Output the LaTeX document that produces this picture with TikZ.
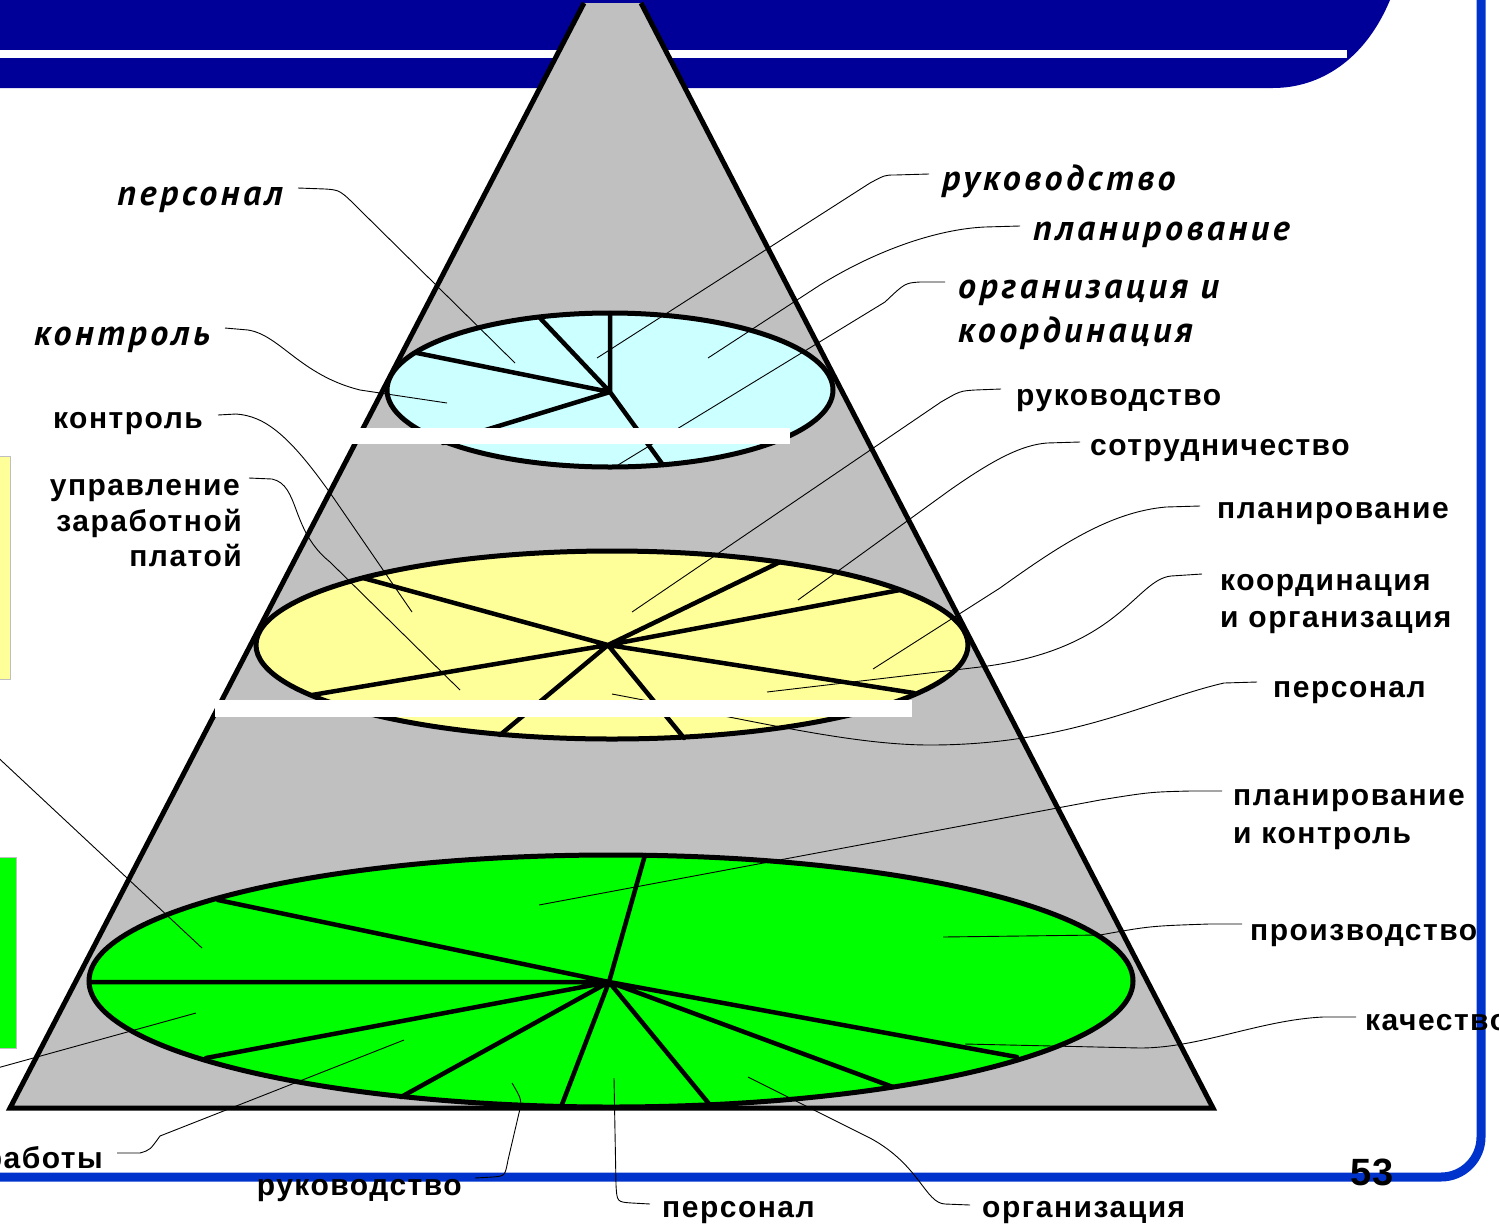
\documentclass[tikz,border=0pt]{standalone}
\usepackage{fontspec}
\setmainfont{Liberation Sans}
\newfontfamily\labfont{Liberation Sans}[LetterSpace=5]
\newfontfamily\itlabfont{PT Sans}[LetterSpace=10]
\usetikzlibrary{calc}
\definecolor{navy}{RGB}{0,0,153}
\definecolor{frameblue}{RGB}{0,51,204}
\definecolor{pyrgray}{RGB}{192,192,192}
\definecolor{topcyan}{RGB}{204,255,255}
\definecolor{midyellow}{RGB}{255,255,153}
\definecolor{lowgreen}{RGB}{0,255,0}

\begin{document}
\begin{tikzpicture}[x=1pt, y=-1pt,
    lab/.style = {inner sep=0pt, font=\labfont\bfseries\fontsize{30}{36}\selectfont},
    itlab/.style = {inner sep=0pt, font=\itlabfont\bfseries\itshape\fontsize{36}{40}\selectfont},
    leader/.style = {draw, line width=0.9pt},
    disc/.style = {draw, line width=5pt},
    cut/.style = {draw, line width=4.5pt, line cap=round}]
    \useasboundingbox (0,0) rectangle (1499,1224);
    \clip (0,0) rectangle (1499,1224);
    % title band
    \path[fill = navy](-5,-5)--(1392,-5)--(1390,0)..controls(1365,60)and(1320,88)..(1273,88)--(-5,88)--cycle;
    \path[fill = white](-5,50)rectangle(1347,58);
    % frame
    \path[draw, frameblue, line width = 9pt, rounded corners = 40pt](1481,-10)--(1481,1177)--(-10,1177);
    % boxes at the left edge
    \path[draw = lightgray, fill = midyellow](-5,456)rectangle(10,679);
    \path[draw = lightgray, fill = lowgreen](-5,857)rectangle(16,1048);
    % pyramid
    \path[fill = pyrgray](584,3)--(10,1108)--(1213,1108)--(641,3)--cycle;
    \path[draw, line width = 5pt, line join = miter](584,3)--(10,1108)--(1213,1108)--(641,3);
    % top disc
    \coordinate(cTop)at(610,392);
    \path[disc, fill = topcyan](610,390)ellipse[x radius = 223pt, y radius = 77pt];
    \path[cut](cTop)--(610,313) (cTop)--(540,318) (cTop)--(417,353) (cTop)--(443,443) (cTop)--(663,465);
    % middle disc
    \coordinate(cMid)at(608,645);
    \path[disc, fill = midyellow](612,645)ellipse[x radius = 356pt, y radius = 94pt];
    \path[cut](cMid)--(363,578) (cMid)--(312,695) (cMid)--(500,735) (cMid)--(684,738)
        (cMid)--(780,562) (cMid)--(900,590) (cMid)--(914,693);
    % bottom disc
    \coordinate(cLow)at(609,982);
    \path[disc, fill = lowgreen](611,981)ellipse[x radius = 522pt, y radius = 126pt];
    \path[cut](cLow)--(645,855) (cLow)--(218,900) (cLow)--(90,982) (cLow)--(206,1058)
        (cLow)--(401,1097) (cLow)--(561,1107) (cLow)--(710,1105) (cLow)--(893,1087) (cLow)--(1017,1057);
    % points in the sectors
    \coordinate(pPersT)at(515,363);
    \coordinate(pKonT)at(447,403);
    \coordinate(pRukT)at(597,358);
    \coordinate(pPlanT)at(708,358);
    \coordinate(pOrgT)at(618,465);
    \coordinate(pKonM)at(412,612);
    \coordinate(pUprM)at(460,690);
    \coordinate(pRukM)at(632,612);
    \coordinate(pSotM)at(798,600);
    \coordinate(pPlanM)at(873,669);
    \coordinate(pKoorM)at(767,692);
    \coordinate(pPersM)at(612,694);
    \coordinate(pPlanB)at(539,905);
    \coordinate(pProdB)at(943,937);
    \coordinate(pKachB)at(965,1044);
    \coordinate(pOrgB)at(748,1077);
    \coordinate(pPersB)at(614,1078);
    \coordinate(pRukB)at(512,1083);
    \coordinate(pRabB)at(404,1040);
    \coordinate(pLeftA)at(202,948);
    \coordinate(pLeftB)at(196,1013);
    % labels, top
    \node[itlab, anchor = base east](lPersT)at(283,205){персонал};
    \node[itlab, anchor = base east](lKonT)at(210,345){контроль};
    \node[itlab, anchor = base west](lRukT)at(942,190){руководство};
    \node[itlab, anchor = base west](lPlanT)at(1033,240){планирование};
    \node[itlab, anchor = base west](lOrgT)at(958,298){организация и};
    \node[itlab, anchor = base west](lKoorT)at(958,342){координация};
    % labels, middle
    \node[lab, anchor = base east](lKonM)at(203,428){контроль};
    \node[lab, anchor = base east](lUprM)at(240,495){управление};
    \node[lab, anchor = base east](lUprM2)at(242,531){заработной};
    \node[lab, anchor = base east](lUprM3)at(242,566){платой};
    \node[lab, anchor = base west](lRukM)at(1016,405){руководство};
    \node[lab, anchor = base west](lSotM)at(1090,455){сотрудничество};
    \node[lab, anchor = base west](lPlanM)at(1217,518){планирование};
    \node[lab, anchor = base west](lKoorM)at(1220,590){координация};
    \node[lab, anchor = base west](lKoorM2)at(1220,627){и организация};
    \node[lab, anchor = base west](lPersM)at(1273,697){персонал};
    % labels, bottom
    \node[lab, anchor = base west](lPlanB)at(1233,805){планирование};
    \node[lab, anchor = base west](lPlanB2)at(1233,843){и контроль};
    \node[lab, anchor = base west](lProdB)at(1250,940){производство};
    \node[lab, anchor = base west](lKachB)at(1365,1030){качество};
    \node[lab, anchor = base west](lOrgB)at(982,1217){организация};
    \node[lab, anchor = base west](lPersB)at(662,1217){персонал};
    \node[lab, anchor = base east](lRukB)at(462,1195){руководство};
    \node[lab, anchor = base east](lRabB)at(103,1168){работы};
    % leaders, top
    \path[leader]($(lPersT.base east)+(15,-17)$)--(325,189)..controls(340,190)..(360,210)--(pPersT);
    \path[leader]($(lKonT.base east)+(15,-17)$)--(248,330)..controls(280,335)and(300,375)..(360,390)--(pKonT);
    \path[leader]($(lRukT.base west)+(-13,-16)$)--(895,175)..controls(885,175)..(870,183)--(pRukT);
    \path[leader]($(lPlanT.base west)+(-13,-14)$)--(985,227)..controls(940,229)and(880,248)..(820,285)--(pPlanT);
    \path[leader]($(lOrgT.base west)+(-13,-16)$)--(920,282)..controls(905,283)..(885,302)--(pOrgT);
    % leaders, middle
    \path[leader]($(lKonM.base east)+(15,-13)$)--(236,414)..controls(265,416)and(290,435)..(335,500)--(pKonM);
    \path[leader]($(lUprM.base east)+(9,-17)$)--(272,479)..controls(300,485)and(290,530)..(330,562)--(pUprM);
    \path[leader]($(lRukM.base west)+(-15,-16)$)--(975,390)..controls(960,391)..(941,402)--(pRukM);
    \path[leader]($(lSotM.base west)+(-10,-13)$)--(1047,443)..controls(1020,445)and(990,462)..(950,490)--(pSotM);
    \path[leader]($(lPlanM.base west)+(-17,-12)$)--(1166,507)..controls(1110,512)and(1060,545)..(1000,588)--(pPlanM);
    \path[leader]($(lKoorM.base west)+(-18,-16)$)--(1171,576)..controls(1135,580)and(1120,650)..(980,667)--(pKoorM);
    \path[leader]($(lPersM.base west)+(-16,-15)$)--(1224,683)..controls(1150,700)and(1070,745)..(930,745)..controls(850,745)and(750,720)..(pPersM);
    % leaders, bottom
    \path[leader]($(lPlanB.base west)+(-11,-14)$)--(1190,791)..controls(1150,792)..(1100,800)--(pPlanB);
    \path[leader]($(lProdB.base west)+(-8,-16)$)--(1209,924)..controls(1150,926)..(1100,935)--(pProdB);
    \path[leader]($(lKachB.base west)+(-9,-13)$)--(1323,1017)..controls(1260,1020)and(1200,1048)..(1140,1048)--(pKachB);
    \path[leader]($(lOrgB.base west)+(-12,-12)$)--(945,1204)..controls(925,1203)and(920,1165)..(870,1138)--(pOrgB);
    \path[leader]($(lPersB.base west)+(-12,-13)$)--(632,1203)..controls(617,1202)..(616,1185)--(pPersB);
    \path[leader]($(lRukB.base east)+(13,-17)$)--(493,1177)..controls(505,1176)..(508,1160)--(519,1113)..controls(522,1100)..(pRukB);
    \path[leader]($(lRabB.base east)+(14,-15)$)--(140,1153)..controls(150,1150)..(160,1136)--(pRabB);
    \path[leader](-10,750)--(pLeftA);
    \path[leader](-10,1070)--(pLeftB);
    % gaps
    \path[fill = white](350,428)rectangle(790,444);
    \path[fill = white](215,700)rectangle(912,717);
    % page number
    \node[inner sep = 0pt, anchor = base, font = \bfseries\fontsize{38}{40}\selectfont](pageNo)at(1372,1185){53};
\end{tikzpicture}
\end{document}
